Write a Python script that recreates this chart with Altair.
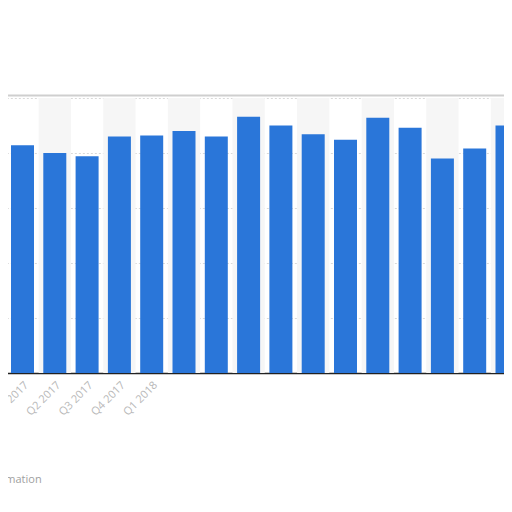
import altair as alt
import pandas as pd

quarters = ["Q1 2017", "Q2 2017", "Q3 2017", "Q4 2017",
            "Q1 2018", "Q2 2018", "Q3 2018", "Q4 2018",
            "Q1 2019", "Q2 2019", "Q3 2019", "Q4 2019",
            "Q1 2020", "Q2 2020", "Q3 2020", "Q4 2020"]
values = [207, 200, 197, 215, 216, 220, 215, 233,
          225, 217, 212, 232, 223, 195, 204, 225]
visible_labels = ["Q1 2017", "Q2 2017", "Q3 2017", "Q4 2017", "Q1 2018"]
y_ticks = [0, 50, 100, 150, 200, 250]
y_max = 250
card_edge = 252.3

df = pd.DataFrame({"quarter": quarters, "value": values})
stripe_df = pd.DataFrame({"quarter": quarters[1::2], "top": [y_max] * len(quarters[1::2])})
edge_df = pd.DataFrame({"edge": [card_edge]})

xscale = alt.Scale(domain=quarters, range=[-1.65, 515.15], paddingInner=0.288, paddingOuter=0.144)
yscale = alt.Scale(domain=[0, y_max], nice=False)

label_expr = "indexof(" + str(visible_labels) + ", datum.label) >= 0 ? datum.label : ''"

x_axis = alt.Axis(labelAngle=-45, labelColor="#b8b8b8", labelFontSize=11,
                  labelFont="Open Sans", ticks=False, domainColor="#222222",
                  domainWidth=1.5, labelPadding=6, labelExpr=label_expr, grid=False)
y_axis = alt.Axis(values=y_ticks, labels=False, ticks=False, domain=False,
                  grid=True, gridDash=[2, 2], gridColor="#d9d9d9")

stripes = alt.Chart(stripe_df).mark_bar(color="#f6f6f6", width={"band": 1.404}).encode(
    x=alt.X("quarter:N", scale=xscale, title=None, axis=x_axis),
    y=alt.Y("top:Q", scale=yscale, title=None, axis=y_axis),
)

bars = alt.Chart(df).mark_bar(color="#2a76d9").encode(
    x=alt.X("quarter:N", scale=xscale, title=None, axis=x_axis),
    y=alt.Y("value:Q", scale=yscale, title=None, axis=y_axis),
)

edge = alt.Chart(edge_df).mark_rule(color="#cfcfcf", strokeWidth=2).encode(
    y=alt.Y("edge:Q", scale=yscale, title=None, axis=y_axis),
)

chart = alt.layer(stripes, bars, edge).properties(
    width=496, height=275,
    autosize="none",
    padding={"left": 0, "top": 90, "right": 0, "bottom": 120},
    title=alt.TitleParams("Additional Information", orient="bottom", anchor="start",
                          dx=-66, offset=57, fontSize=11, color="#a0a0a0",
                          font="Open Sans", fontWeight="normal"),
).configure_view(stroke=None)

chart.save("out.html", embed_options={"renderer": "svg", "actions": False})
